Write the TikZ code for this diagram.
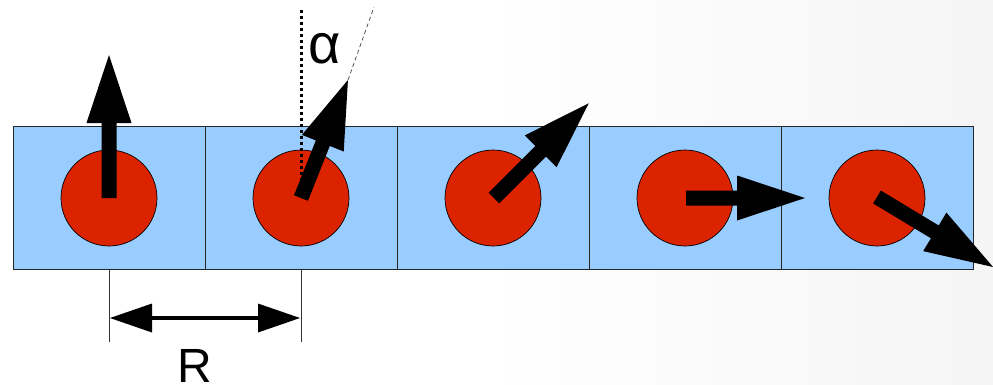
\documentclass[tikz,border=0pt]{standalone}
\usepackage{fontspec}
\setmainfont{Liberation Sans}
\usetikzlibrary{calc}
\definecolor{cellblue}{HTML}{99CCFF}
\definecolor{spinred}{HTML}{DC2300}
\tikzset{
  cell/.style={draw=black!85, line width=0.8pt, fill=cellblue, minimum width=192pt, minimum height=143pt, inner sep=0pt, outer sep=0pt},
  spin/.style={circle, draw=black, line width=0.7pt, fill=spinred, minimum size=96pt, inner sep=0pt},
  dimline/.style={line width=0.8pt, draw=black!80},
  biglabel/.style={font=\fontsize{48}{48}\selectfont, inner sep=0pt, anchor=base}
}
\newcommand\spinarrow[3]{%
  \begin{scope}[shift={(#1)},rotate=#2]
    \fill[black] (0,-7.5) -- ({#3-68},-7.5) -- ({#3-68},-22.5) -- (#3,0) --
      ({#3-68},22.5) -- ({#3-68},7.5) -- (0,7.5) -- cycle;
  \end{scope}}
\begin{document}
\begin{tikzpicture}[x=1pt,y=1pt]
  \useasboundingbox (0,0) rectangle (993,-384);
  \fill[white] (0,0) rectangle (993,-384);
  \shade[left color=white, right color=black!4] (480,0) rectangle (993,-384);
  % cells
  \foreach \i in {1,...,5}{
    \node[cell] (cell\i) at ({13+96+192*(\i-1)},-198) {};
  }
  \foreach \i in {1,...,5}{
    \node[spin] (spin\i) at (cell\i.center) {};
  }
  % reference lines for angle
  \coordinate (vtop) at (301,-10);
  \coordinate (dtop) at (374,-7);
  \coordinate (dbot) at (348,-80);
  \draw[line width=3pt, dash pattern=on 3pt off 3pt] (vtop) -- (spin2.center);
  \draw[line width=0.7pt, draw=black!75, dash pattern=on 4pt off 3pt] (dbot) -- (dtop);
  % spin arrows
  \spinarrow{spin1.center}{90}{143}
  \spinarrow{spin2.center}{68.3}{127}
  \spinarrow{$(spin3.center)+(1,0)$}{45}{134}
  \spinarrow{$(spin4.center)+(1,0)$}{0}{119}
  \spinarrow{$(spin5.center)+(0,1)$}{-31.1}{135.5}
  % labels
  \node[biglabel, font=\fontsize{56}{56}\selectfont] (alpha) at (325,-63) {α};
  % dimension
  \coordinate (d1t) at (109,-270);
  \coordinate (d1b) at (109,-342);
  \coordinate (d2t) at (301,-270);
  \coordinate (d2b) at (301,-342);
  \draw[dimline] (d1t) -- (d1b);
  \draw[dimline] (d2t) -- (d2b);
  \coordinate (dl) at (110,-318);
  \coordinate (dr) at (300,-318);
  \draw[line width=3.5pt] ($(dl)+(30,0)$) -- ($(dr)+(-30,0)$);
  \fill[black] (dl) -- ++(42,14.5) -- ++(0,-29) -- cycle;
  \fill[black] (dr) -- ++(-42,14.5) -- ++(0,-29) -- cycle;
  \node[biglabel] (rlabel) at (194.5,-382) {R};
\end{tikzpicture}
\end{document}
